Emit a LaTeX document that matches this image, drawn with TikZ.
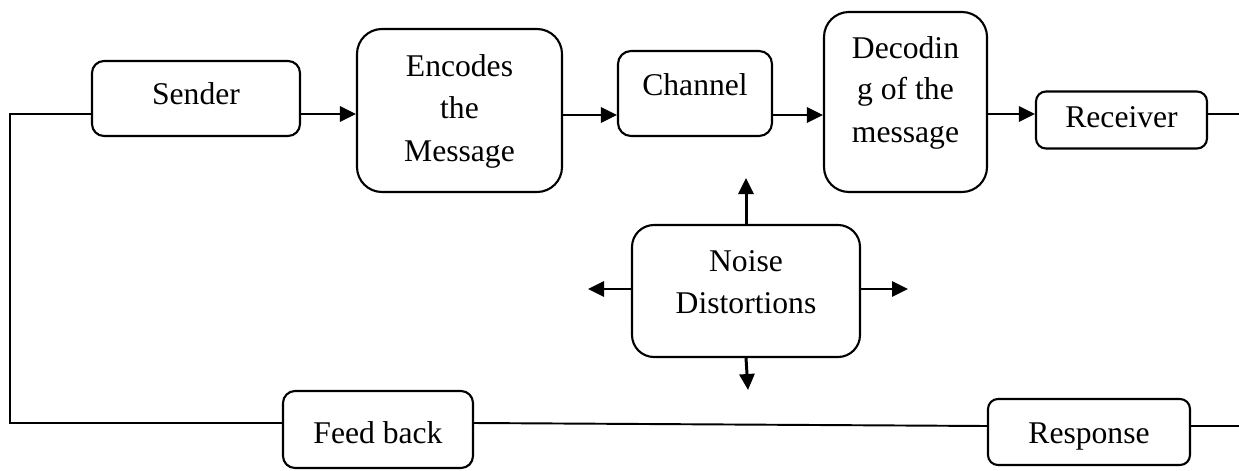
\documentclass[tikz,border=0pt]{standalone}
\usepackage{fontspec}
\setmainfont{Liberation Serif}
\usetikzlibrary{arrows.meta}
\begin{document}
\begin{tikzpicture}[x=0.02cm,y=-0.02cm,
  box/.style={draw,line width=1.2pt,rectangle,inner sep=0pt},
  lbl/.style={anchor=base,inner sep=0pt,font=\fontsize{18}{22}\selectfont},
  flow/.style={line width=1.7pt,-{Triangle[length=0.32cm,width=0.3cm]}},
  link/.style={line width=1.1pt}]
\useasboundingbox (0,0) rectangle (1239,470);

% boxes: centre, width, height, corner radius
\node[box,rounded corners=0.24cm,minimum width=208*0.02cm,minimum height=75*0.02cm] (sender) at (196,98.5) {};
\node[box,rounded corners=0.5cm,minimum width=205*0.02cm,minimum height=163*0.02cm] (enc) at (459.5,110.5) {};
\node[box,rounded corners=0.26cm,minimum width=154*0.02cm,minimum height=85*0.02cm] (chan) at (695,93.5) {};
\node[box,rounded corners=0.5cm,minimum width=163*0.02cm,minimum height=180*0.02cm] (dec) at (905.5,102) {};
\node[box,rounded corners=0.2cm,minimum width=171*0.02cm,minimum height=57*0.02cm] (recv) at (1121.5,120) {};
\node[box,rounded corners=0.44cm,minimum width=228*0.02cm,minimum height=132*0.02cm] (noise) at (746,291) {};
\node[box,rounded corners=0.24cm,minimum width=190*0.02cm,minimum height=77*0.02cm] (fb) at (378,429.5) {};
\node[box,rounded corners=0.2cm,minimum width=202*0.02cm,minimum height=66*0.02cm] (resp) at (1089,432) {};

% texts
\node[lbl] (senderT) at (196,104) {Sender};
\node[lbl] (encT1) at (459.5,76) {Encodes};
\node[lbl] (encT2) at (459.5,118) {the};
\node[lbl] (encT3) at (459.5,161) {Message};
\node[lbl] (chanT) at (695,95) {Channel};
\node[lbl] (decT1) at (905.5,58) {Decodin};
\node[lbl] (decT2) at (905.5,99) {g of the};
\node[lbl] (decT3) at (905.5,142) {message};
\node[lbl] (recvT) at (1121.5,127) {Receiver};
\node[lbl] (noiseT1) at (746,271) {Noise};
\node[lbl] (noiseT2) at (746,313) {Distortions};
\node[lbl] (fbT) at (378,443) {Feed back};
\node[lbl] (respT) at (1089,443) {Response};

% main flow
\draw[flow] (sender.east |- 0,114) -- (enc.west |- 0,114);
\draw[flow] (enc.east |- 0,115) -- (chan.west |- 0,115);
\draw[flow] (chan.east |- 0,115) -- (dec.west |- 0,115);
\draw[flow] (dec.east |- 0,114) -- (recv.west |- 0,114);

% noise arrows
\coordinate (nUp) at (746,178);
\coordinate (nDown) at (748,390);
\coordinate (nLeft) at (588,289);
\coordinate (nRight) at (908,289);
\draw[flow] (noise.north) -- (nUp);
\draw[flow] (noise.south) -- (nDown);
\draw[flow] (noise.west |- nLeft) -- (nLeft);
\draw[flow] (noise.east |- nRight) -- (nRight);

% feedback loop
\coordinate (rEdgeTop) at (1239,114);
\coordinate (rEdgeBot) at (1239,426);
\coordinate (lTop) at (10,114);
\coordinate (lBot) at (10,423);
\draw[link] (recv.east |- 0,114) -- (rEdgeTop);
\draw[link] (resp.east |- 0,426) -- (rEdgeBot);
\draw[link] (resp.west |- 0,426) -- (fb.east |- 0,423);
\draw[link] (fb.west |- 0,423) -- (lBot) -- (lTop) -- (sender.west |- 0,114);
\end{tikzpicture}
\end{document}
